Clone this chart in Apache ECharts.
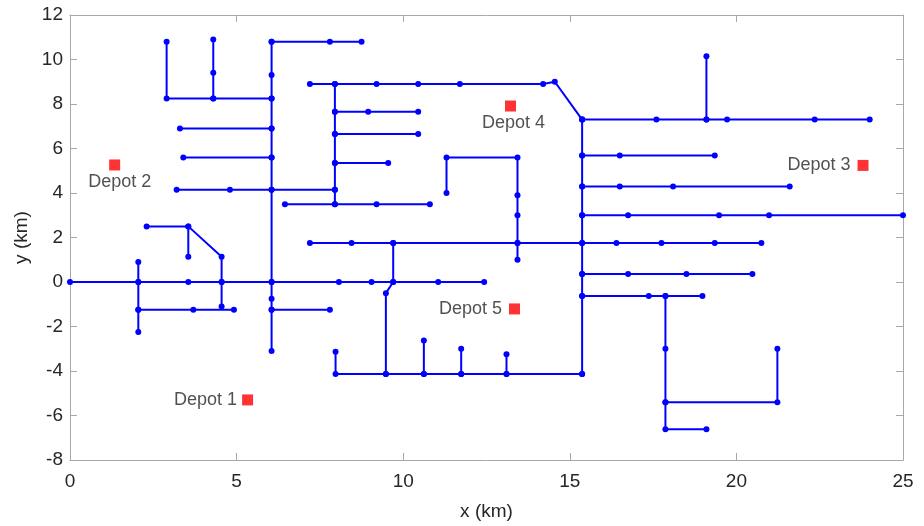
<!DOCTYPE html>
<html>
<head>
<meta charset="utf-8">
<script src="https://cdn.jsdelivr.net/npm/echarts@6/dist/echarts.min.js"></script>
<style>
  html, body { margin: 0; padding: 0; background: #fff; overflow: hidden; }
  #chart { width: 924px; height: 526px; }
</style>
</head>
<body>
<div id="chart"></div>
<script>
// Road network: each entry is one polyline of node coordinates (km)
const westRoads = [
  [[2.9, 10.8], [2.9, 8.25], [4.3, 8.25], [6.05, 8.25]],
  [[4.3, 10.9], [4.3, 9.4], [4.3, 8.25]],
  [[6.05, 10.8], [6.05, 9.3], [6.05, 8.25], [6.05, 6.9], [6.05, 5.6], [6.05, 4.15], [6.05, 0], [6.05, -0.75], [6.05, -1.25], [6.05, -3.1]],
  [[6.05, 10.8], [7.8, 10.8], [8.75, 10.8]],
  [[3.3, 6.9], [6.05, 6.9]],
  [[3.4, 5.6], [6.05, 5.6]],
  [[3.2, 4.15], [4.8, 4.15], [6.05, 4.15], [7.95, 4.15]],
  [[0, 0], [2.05, 0], [3.55, 0], [4.55, 0], [6.05, 0], [8.07, 0], [9.05, 0], [9.7, 0], [11.05, 0], [12.43, 0]],
  [[2.05, 0.9], [2.05, 0], [2.05, -1.25], [2.05, -2.25]],
  [[2.05, -1.25], [3.7, -1.25], [4.92, -1.25]],
  [[2.3, 2.5], [3.55, 2.5], [4.55, 1.13], [4.55, 0], [4.55, -1.1]],
  [[3.55, 2.5], [3.55, 1.13]],
  [[6.05, -1.25], [7.8, -1.25]]
];

const centralRoads = [
  [[6.45, 3.5], [7.95, 3.5], [9.2, 3.5], [10.8, 3.5]],
  [[7.95, 8.9], [7.95, 7.65], [7.95, 6.65], [7.95, 5.35], [7.95, 4.15], [7.95, 3.5]],
  [[7.2, 8.9], [7.95, 8.9], [9.2, 8.9], [10.45, 8.9], [11.7, 8.9], [14.2, 8.9], [14.55, 9.0], [15.37, 7.3]],
  [[7.95, 7.65], [8.95, 7.65], [10.45, 7.65]],
  [[7.95, 6.65], [10.45, 6.65]],
  [[7.95, 5.35], [9.55, 5.35]],
  [[11.3, 4.0], [11.3, 5.6], [13.43, 5.6], [13.43, 3.9], [13.43, 3.0], [13.43, 1.75], [13.43, 1.0]],
  [[7.2, 1.75], [8.45, 1.75], [9.7, 1.75], [13.43, 1.75], [15.37, 1.75], [16.4, 1.75], [17.75, 1.75], [19.35, 1.75], [20.75, 1.75]],
  [[9.7, 1.75], [9.7, 0], [9.48, -0.5], [9.48, -4.13]],
  [[7.97, -3.13], [7.97, -4.13], [9.48, -4.13], [10.62, -4.13], [11.74, -4.13], [13.1, -4.13], [15.37, -4.13]],
  [[10.62, -2.63], [10.62, -4.13]],
  [[11.74, -3.0], [11.74, -4.13]],
  [[13.1, -3.25], [13.1, -4.13]]
];

const eastRoads = [
  [[15.37, 7.3], [15.37, 5.68], [15.37, 4.29], [15.37, 3.0], [15.37, 1.75], [15.37, 0.36], [15.37, -0.63], [15.37, -4.13]],
  [[15.37, 7.3], [17.6, 7.3], [19.1, 7.3], [19.72, 7.3], [22.35, 7.3], [24.0, 7.3]],
  [[19.1, 10.15], [19.1, 7.3]],
  [[15.37, 5.68], [16.5, 5.68], [19.35, 5.68]],
  [[15.37, 4.29], [16.5, 4.29], [18.1, 4.29], [21.6, 4.29]],
  [[15.37, 3.0], [16.75, 3.0], [19.48, 3.0], [20.98, 3.0], [25, 3.0]],
  [[15.37, 0.36], [16.75, 0.36], [18.5, 0.36], [20.48, 0.36]],
  [[15.37, -0.63], [17.37, -0.63], [17.87, -0.63], [18.98, -0.63]],
  [[17.87, -0.63], [17.87, -3.0], [17.87, -5.4], [17.87, -6.62], [19.1, -6.62]],
  [[17.87, -5.4], [21.23, -5.4], [21.23, -3.0]]
];

// Depot locations (km) and their label placement
const depotNames = ['Depot 1', 'Depot 2', 'Depot 3', 'Depot 4', 'Depot 5'];
const depotX = [5.33, 1.34, 23.8, 13.22, 13.34];
const depotY = [-5.3, 5.26, 5.24, 7.91, -1.21];
const depotLabelSide = ['left', 'bottom', 'left', 'bottom', 'left'];

const xTicks = [0, 5, 10, 15, 20, 25];
const yTicks = [-8, -6, -4, -2, 0, 2, 4, 6, 8, 10, 12];

const FONT = '"Liberation Sans", Arial, Helvetica, sans-serif';
const TEXT = '#262626';
const BOX = '#a8a8a8';

const roadSeries = [].concat(westRoads, centralRoads, eastRoads).map(function (pts) {
  return {
    type: 'line',
    data: pts,
    symbol: 'circle',
    symbolSize: 6,
    showSymbol: true,
    lineStyle: { color: '#0000ff', width: 2 },
    itemStyle: { color: '#0000ff' },
    silent: true,
    z: 2
  };
});

const depotSeries = {
  type: 'scatter',
  symbol: 'rect',
  symbolSize: 11,
  itemStyle: { color: '#ff0000' },
  z: 3,
  data: depotNames.map(function (n, i) {
    const side = depotLabelSide[i];
    return {
      name: n,
      value: [depotX[i], depotY[i]],
      label: {
        show: true,
        formatter: n,
        position: side,
        distance: side === 'bottom' ? 3 : (i === 0 ? 5 : 7),
        offset: side === 'bottom' ? [i === 1 ? 5 : 3, 0] : [0, 0],
        color: TEXT,
        fontFamily: FONT,
        fontSize: 18
      }
    };
  })
};

function axisBase(extra) {
  return Object.assign({
    type: 'value',
    splitLine: { show: false },
    axisLine: { show: true, onZero: false, lineStyle: { color: BOX, width: 1 } },
    axisTick: { show: true, inside: true, length: 7, lineStyle: { color: BOX } }
  }, extra);
}

const chart = echarts.init(document.getElementById('chart'), null, { renderer: 'canvas' });
chart.setOption({
  animation: false,
  backgroundColor: '#ffffff',
  grid: { left: 70, right: 21, top: 15, bottom: 60, containLabel: false },
  xAxis: [
    axisBase({
      position: 'bottom',
      min: xTicks[0], max: xTicks[xTicks.length - 1], interval: 5,
      name: 'x (km)', nameLocation: 'middle', nameGap: 42,
      nameTextStyle: { color: TEXT, fontFamily: FONT, fontSize: 19 },
      axisLabel: { color: TEXT, fontFamily: FONT, fontSize: 19, margin: 12 }
    }),
    axisBase({
      position: 'top',
      min: xTicks[0], max: xTicks[xTicks.length - 1], interval: 5,
      axisLabel: { show: false }
    })
  ],
  yAxis: [
    axisBase({
      position: 'left',
      min: yTicks[0], max: yTicks[yTicks.length - 1], interval: 2,
      name: 'y (km)', nameLocation: 'middle', nameGap: 34, nameRotate: 90,
      nameTextStyle: { color: TEXT, fontFamily: FONT, fontSize: 19 },
      axisLabel: { color: TEXT, fontFamily: FONT, fontSize: 19, margin: 7 }
    }),
    axisBase({
      position: 'right',
      min: yTicks[0], max: yTicks[yTicks.length - 1], interval: 2,
      axisLabel: { show: false }
    })
  ],
  series: roadSeries.concat([depotSeries])
});
</script>
</body>
</html>
